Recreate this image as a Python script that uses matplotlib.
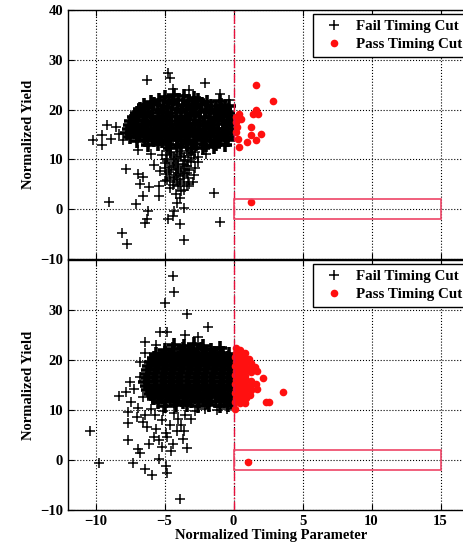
# Timing cut scatter: normalized yield vs normalized timing parameter
# two stacked panels, same axes, red box = signal region

import matplotlib
matplotlib.use("Agg")
import numpy as np
import matplotlib.pyplot as plt
from matplotlib.patches import Rectangle

plt.rcParams['font.family'] = ['Liberation Serif', 'DejaVu Serif']
plt.rcParams['font.weight'] = 'bold'

# ---- top panel ----
fail_top_core = [
    (-5.0, 22.6), (-4.3, 22.9), (-3.6, 22.7), (-2.9, 22.4),
    (-6.0, 21.6), (-5.4, 21.9), (-4.7, 21.8), (-4.0, 22.0), (-3.3, 21.7), (-2.6, 21.9), (-1.9, 21.5), (-1.0, 21.8),
    (-6.5, 20.9), (-5.8, 21.1), (-5.1, 20.8), (-4.4, 21.2), (-3.7, 21.0), (-3.0, 20.9), (-2.3, 21.1), (-1.6, 20.8), (-0.9, 20.9), (-0.3, 20.7),
    (-6.8, 20.1), (-6.2, 20.3), (-5.5, 20.0), (-4.8, 20.4), (-4.1, 20.2), (-3.4, 20.1), (-2.7, 20.3), (-2.0, 20.0), (-1.3, 20.2), (-0.6, 20.1),
    (-7.0, 19.3), (-6.5, 19.5), (-5.9, 19.4), (-5.2, 19.6), (-4.5, 19.3), (-3.8, 19.5), (-3.1, 19.4), (-2.4, 19.6), (-1.7, 19.3), (-1.0, 19.5), (-0.4, 19.4),
    (-7.2, 18.5), (-6.6, 18.7), (-6.0, 18.6), (-5.4, 18.4), (-4.8, 18.8), (-4.2, 18.6), (-3.5, 18.5), (-2.8, 18.7), (-2.1, 18.6), (-1.4, 18.4), (-0.8, 18.7), (-0.2, 18.6),
    (-7.4, 17.7), (-6.9, 17.9), (-6.3, 17.8), (-5.7, 17.6), (-5.1, 17.9), (-4.5, 17.8), (-3.8, 17.7), (-3.2, 17.9), (-2.5, 17.8), (-1.8, 17.6), (-1.1, 17.9), (-0.5, 17.8),
    (-7.5, 16.9), (-7.0, 17.1), (-6.4, 17.0), (-5.8, 17.2), (-5.2, 16.9), (-4.6, 17.1), (-4.0, 17.0), (-3.4, 16.9), (-2.8, 17.2), (-2.2, 17.0), (-1.5, 16.9), (-0.8, 17.1), (-0.2, 17.0),
    (-7.6, 16.1), (-7.1, 16.3), (-6.6, 16.2), (-6.0, 16.0), (-5.4, 16.3), (-4.8, 16.2), (-4.2, 16.1), (-3.6, 16.3), (-3.0, 16.2), (-2.4, 16.0), (-1.8, 16.3), (-1.1, 16.2), (-0.5, 16.1),
    (-7.7, 15.3), (-7.2, 15.5), (-6.8, 15.4), (-6.2, 15.6), (-5.6, 15.3), (-5.0, 15.5), (-4.4, 15.4), (-3.8, 15.3), (-3.2, 15.6), (-2.6, 15.4), (-2.0, 15.3), (-1.4, 15.5), (-0.8, 15.4), (-0.2, 15.3),
    (-7.5, 14.5), (-7.0, 14.7), (-6.5, 14.6), (-5.9, 14.4), (-5.3, 14.7), (-4.7, 14.6), (-4.1, 14.5), (-3.5, 14.7), (-2.9, 14.6), (-2.3, 14.4), (-1.7, 14.7), (-1.1, 14.6), (-0.5, 14.5),
    (-7.0, 13.7), (-6.4, 13.9), (-5.8, 13.8), (-5.2, 13.6), (-4.6, 13.9), (-4.0, 13.8), (-3.4, 13.7), (-2.8, 13.9), (-2.2, 13.8), (-1.6, 13.6), (-1.0, 13.9), (-0.4, 13.8),
    (-6.2, 12.9), (-5.5, 13.1), (-4.8, 13.0), (-4.1, 12.8), (-3.4, 13.1), (-2.7, 13.0), (-2.0, 12.9), (-1.3, 13.1), (-0.6, 12.9),
    (-4.6, 12.2), (-3.8, 12.4), (-3.0, 12.3), (-2.2, 12.2), (-1.4, 12.4),
]
fail_top_spread = [
    (-4.8, 11.6), (-4.1, 11.5), (-3.4, 11.7), (-2.8, 11.4), (-5.2, 10.8), (-4.5, 10.9), (-3.8, 10.7), (-3.1, 10.9),
    (-2.6, 10.5), (-4.9, 10.0), (-4.2, 10.1), (-3.5, 9.9), (-2.9, 10.2), (-5.0, 9.2), (-4.4, 9.3), (-3.7, 9.1),
    (-3.1, 9.4), (-4.7, 8.5), (-4.0, 8.4), (-3.4, 8.6), (-2.8, 8.3), (-5.3, 7.7), (-4.5, 7.8), (-3.8, 7.6),
    (-3.2, 7.8), (-4.9, 7.0), (-4.2, 6.9), (-3.6, 7.1), (-2.9, 6.8), (-4.6, 6.2), (-3.9, 6.1), (-3.3, 6.3),
    (-4.3, 5.4), (-3.6, 5.5), (-5.0, 5.6), (-4.0, 4.7), (-3.4, 4.6), (-4.6, 4.3), (-3.8, 3.7), (-4.2, 3.0),
    (-3.9, 2.2), (-4.1, 1.2), (-3.6, 0.3),
    (-4.6, 11.2), (-3.9, 11.0), (-3.2, 11.2), (-4.3, 10.4), (-3.6, 10.4), (-4.8, 9.6), (-4.0, 9.7), (-3.3, 9.6),
    (-4.3, 8.8), (-3.6, 8.8), (-5.0, 8.2), (-4.2, 8.0), (-3.5, 8.0), (-4.7, 7.4), (-4.0, 7.3), (-3.4, 7.3),
    (-4.3, 6.5), (-3.7, 6.6), (-4.8, 5.9), (-4.1, 5.9), (-3.9, 5.1), (-4.4, 4.9), (-3.2, 5.1), (-3.6, 3.9),
    (-6.25, 25.9), (-4.76, 27.3), (-4.64, 26.3), (-2.1, 25.4), (-1.0, 23.2), (-0.3, 21.9), (-4.4, 24.2), (-3.2, 24.0),
    (-9.2, 17.0), (-10.2, 13.9), (-9.5, 14.8), (-9.5, 12.9), (-8.9, 14.1), (-8.3, 15.2), (-8.0, 13.8), (-8.5, 16.5),
    (-7.8, 8.1), (-6.9, 7.1), (-6.6, 6.5), (-6.8, 5.1), (-6.1, 4.4), (-6.6, 2.7), (-9.0, 1.5), (-7.1, 1.0),
    (-6.2, -0.3), (-6.3, -1.9), (-6.4, -2.7), (-8.1, -4.7), (-7.7, -6.9), (-4.76, -1.9), (-3.9, -3.0), (-3.6, -6.2),
    (-1.0, -2.5), (-1.45, 3.2), (-2.6, 9.4), (-2.95, 5.4), (-4.3, -0.3), (-4.4, -1.3), (-5.4, 4.7), (-5.4, 2.7),
    (-5.8, 8.8), (-6.0, 11.0), (-6.9, 11.8), (-2.0, 11.0),
]
pass_top = [
    (1.64, 24.9), (2.85, 21.8), (1.64, 19.9), (1.76, 19.2), (1.4, 19.2), (0.43, 19.2), (0.2, 18.6), (0.55, 18.2),
    (1.28, 16.6), (0.2, 15.6), (1.96, 15.2), (1.28, 14.8), (0.3, 14.1), (1.64, 13.8), (0.97, 13.5), (0.36, 12.5),
    (0.15, 17.5), (0.25, 16.6), (1.28, 1.5),
]

# ---- bottom panel ----
fail_bot_core = [
    (-4.3, 23.1), (-3.6, 22.9), (-2.9, 23.2), (-2.2, 22.8),
    (-5.0, 22.1), (-4.4, 22.3), (-3.7, 22.2), (-3.0, 22.0), (-2.3, 22.3), (-1.6, 22.1), (-1.0, 22.4),
    (-5.6, 21.3), (-5.0, 21.5), (-4.4, 21.4), (-3.8, 21.2), (-3.2, 21.5), (-2.6, 21.4), (-2.0, 21.3), (-1.4, 21.5), (-0.8, 21.4), (-0.3, 21.2),
    (-5.8, 20.5), (-5.2, 20.7), (-4.6, 20.6), (-4.0, 20.4), (-3.4, 20.7), (-2.8, 20.6), (-2.2, 20.5), (-1.6, 20.7), (-1.0, 20.6), (-0.4, 20.5),
    (-6.0, 19.7), (-5.4, 19.9), (-4.8, 19.8), (-4.2, 19.6), (-3.6, 19.9), (-3.0, 19.8), (-2.4, 19.7), (-1.8, 19.9), (-1.2, 19.8), (-0.6, 19.6), (-0.2, 19.9),
    (-6.1, 18.9), (-5.5, 19.1), (-4.9, 19.0), (-4.3, 18.8), (-3.7, 19.1), (-3.1, 19.0), (-2.5, 18.9), (-1.9, 19.1), (-1.3, 19.0), (-0.7, 18.8), (-0.2, 19.0),
    (-6.2, 18.1), (-5.6, 18.3), (-5.0, 18.2), (-4.4, 18.0), (-3.8, 18.3), (-3.2, 18.2), (-2.6, 18.1), (-2.0, 18.3), (-1.4, 18.2), (-0.8, 18.0), (-0.3, 18.3),
    (-6.3, 17.3), (-5.7, 17.5), (-5.1, 17.4), (-4.5, 17.2), (-3.9, 17.5), (-3.3, 17.4), (-2.7, 17.3), (-2.1, 17.5), (-1.5, 17.4), (-0.9, 17.2), (-0.3, 17.5),
    (-6.2, 16.5), (-5.6, 16.7), (-5.0, 16.6), (-4.4, 16.4), (-3.8, 16.7), (-3.2, 16.6), (-2.6, 16.5), (-2.0, 16.7), (-1.4, 16.6), (-0.8, 16.4), (-0.2, 16.7),
    (-6.4, 15.7), (-5.8, 15.9), (-5.2, 15.8), (-4.6, 15.6), (-4.0, 15.9), (-3.4, 15.8), (-2.8, 15.7), (-2.2, 15.9), (-1.6, 15.8), (-1.0, 15.6), (-0.4, 15.9),
    (-6.3, 14.9), (-5.7, 15.1), (-5.1, 15.0), (-4.5, 14.8), (-3.9, 15.1), (-3.3, 15.0), (-2.7, 14.9), (-2.1, 15.1), (-1.5, 15.0), (-0.9, 14.8), (-0.3, 15.1),
    (-6.2, 14.1), (-5.6, 14.3), (-5.0, 14.2), (-4.4, 14.0), (-3.8, 14.3), (-3.2, 14.2), (-2.6, 14.1), (-2.0, 14.3), (-1.4, 14.2), (-0.8, 14.0), (-0.2, 14.3),
    (-6.0, 13.3), (-5.4, 13.5), (-4.8, 13.4), (-4.2, 13.2), (-3.6, 13.5), (-3.0, 13.4), (-2.4, 13.3), (-1.8, 13.5), (-1.2, 13.4), (-0.6, 13.2),
    (-5.8, 12.5), (-5.2, 12.7), (-4.6, 12.6), (-4.0, 12.4), (-3.4, 12.7), (-2.8, 12.6), (-2.2, 12.5), (-1.6, 12.7), (-1.0, 12.6), (-0.4, 12.4),
    (-5.5, 11.7), (-4.9, 11.9), (-4.3, 11.8), (-3.7, 11.6), (-3.1, 11.9), (-2.5, 11.8), (-1.9, 11.7), (-1.3, 11.9), (-0.7, 11.8), (-0.2, 11.6),
    (-5.0, 10.9), (-4.2, 11.1), (-3.4, 11.0), (-2.6, 10.8), (-1.8, 11.1), (-1.0, 10.9), (-0.4, 11.0),
]
fail_bot_spread = [
    (-4.4, 36.8), (-4.35, 33.7), (-5.0, 31.5), (-3.36, 29.2), (-1.86, 26.7), (-5.3, 25.7), (-4.8, 25.7), (-6.45, 23.6),
    (-1.0, 22.6), (-3.5, 25.0), (-2.6, 24.6), (-5.6, 23.0), (-6.4, 21.5), (-6.8, 19.6), (-6.8, 16.7), (-7.5, 15.7),
    (-8.3, 12.8), (-7.8, 13.6), (-7.2, 14.2), (-7.4, 11.7), (-7.65, 9.7), (-10.4, 5.8), (-9.75, -0.6), (-7.65, 7.5),
    (-7.65, 4.1), (-6.9, 2.2), (-6.8, 1.5), (-7.3, -0.6), (-6.4, -1.8), (-5.9, -2.9), (-5.4, 0.2), (-4.9, -1.1),
    (-4.8, -2.6), (-3.85, -7.7), (-3.4, 2.5), (-6.6, 7.6), (-6.3, 6.6), (-5.8, 4.6), (-5.4, 4.0), (-4.8, 4.6),
    (-4.4, 3.3), (-4.1, 5.8), (-3.8, 7.1), (-5.2, 8.1), (-4.6, 7.1), (-5.7, 9.1), (-6.4, 9.1), (-3.6, 5.8),
    (-6.9, 10.5), (-6.0, 10.2), (-5.1, 9.8), (-4.3, 9.5), (-3.5, 9.0), (-2.8, 9.8), (-3.1, 8.2), (-4.0, 8.3),
    (-5.6, 6.2), (-4.9, 5.5), (-3.7, 4.2), (-5.2, 2.6), (-4.5, 1.8), (-6.1, 3.3), (-7.0, 8.6), (-5.9, 12.0),
    (-6.6, 12.6), (-1.2, 10.0), (-2.1, 10.2), (-0.5, 10.3),
]
pass_bot = [
    (0.2, 22.4), (0.5, 22.1),
    (0.15, 21.5), (0.5, 21.3), (0.85, 21.4),
    (0.1, 20.6), (0.45, 20.4), (0.8, 20.5), (1.1, 20.3),
    (0.2, 19.7), (0.55, 19.5), (0.9, 19.6), (1.3, 19.4),
    (0.1, 18.8), (0.45, 18.6), (0.8, 18.7), (1.2, 18.5), (1.55, 18.7),
    (0.2, 17.9), (0.55, 17.7), (0.9, 17.8), (1.3, 17.6), (1.7, 17.8),
    (0.1, 17.0), (0.5, 16.8), (0.85, 16.9),
    (0.15, 16.1), (0.5, 15.9), (0.9, 16.0), (1.3, 15.8),
    (0.1, 15.2), (0.45, 15.0), (0.8, 15.1), (1.2, 14.9), (1.6, 15.2),
    (0.2, 14.3), (0.55, 14.1), (0.9, 14.2), (1.3, 14.0), (1.7, 14.3),
    (0.1, 13.4), (0.5, 13.2), (0.85, 13.3), (1.2, 13.1),
    (0.15, 12.5), (0.5, 12.3), (0.9, 12.4),
    (0.1, 11.6), (0.45, 11.4), (0.8, 11.5),
    (0.12, 10.2), (2.1, 16.5), (3.57, 13.7), (2.37, 11.7), (2.6, 11.7), (1.04, -0.3),
]

box_x = [0, 15]
box_y = [-2, 2]
xticks = [-10, -5, 0, 5, 10, 15]

W, H = 464, 548
fig = plt.figure(figsize=(W / 100, H / 100), dpi=100)
# axes run past the right edge of the figure, as in the cropped original
ax1 = fig.add_axes([68 / W, 289 / H, 407 / W, 249 / H])
ax2 = fig.add_axes([68 / W, 38 / H, 407 / W, 250 / H])

panels = [
    (ax1, fail_top_core, fail_top_spread, pass_top, [-10, 0, 10, 20, 30, 40]),
    (ax2, fail_bot_core, fail_bot_spread, pass_bot, [-10, 0, 10, 20, 30]),
]

for ax, core, spread, passed, yt in panels:
    core = np.array(core)
    spread = np.array(spread)
    passed = np.array(passed)
    ax.plot(spread[:, 0], spread[:, 1], '+', color='k', ms=7, mew=1.1,
            label='Fail Timing Cut', zorder=3)
    ax.plot(core[:, 0], core[:, 1], '+', color='k', ms=10, mew=2.6, zorder=3)
    ax.plot(passed[:, 0], passed[:, 1], 'o', color='#ff1010', ms=5.5, mew=0,
            label='Pass Timing Cut', zorder=4)
    ax.axvline(0, color='#e8103c', ls='-.', lw=1.0, zorder=5)
    ax.add_patch(Rectangle((box_x[0], box_y[0]), box_x[1] - box_x[0], box_y[1] - box_y[0],
                           fill=False, edgecolor='#ee4466', lw=1.2, zorder=5))
    ax.set_xlim(-12, 17.5)
    ax.set_ylim(-10, 40)
    ax.set_xticks(xticks)
    ax.set_yticks(yt)
    ax.grid(True, ls=':', color='k', lw=0.8)
    ax.set_axisbelow(True)
    ax.tick_params(direction='in', top=True, right=True, labelsize=10.5, length=4)
    ax.set_ylabel('Normalized Yield', fontsize=10.5, fontweight='bold', labelpad=4)
    for s in ax.spines.values():
        s.set_linewidth(1.0)
    leg = ax.legend(loc='upper left', bbox_to_anchor=(245 / 407, 0.985), fontsize=10.8,
                    frameon=True, fancybox=False, edgecolor='k', framealpha=1,
                    labelspacing=0.3, borderpad=0.4, handletextpad=0.5, handlelength=2.0,
                    borderaxespad=0)
    leg.get_frame().set_linewidth(1.0)

ax1.set_xticklabels([])
ax2.set_xlabel('Normalized Timing Parameter', fontsize=10.5, fontweight='bold', labelpad=1)

fig.savefig('out.png', dpi=100)
